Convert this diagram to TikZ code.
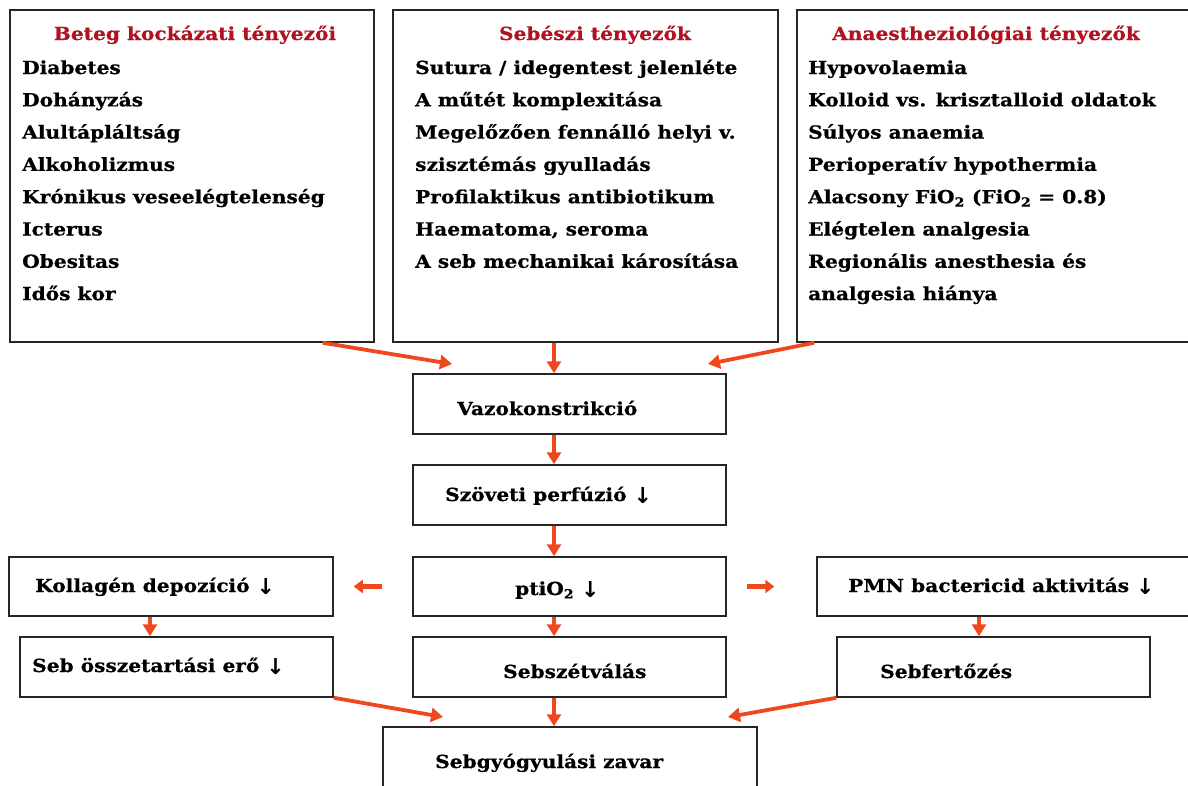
\documentclass[tikz,border=0pt]{standalone}
\usepackage{fontspec}
\setmainfont{DejaVu Serif}[FakeStretch=1.12, BoldFeatures={FakeBold=0.6}]
\newfontfamily\symfont{DejaVu Sans}
\usetikzlibrary{arrows.meta}
\definecolor{arrowred}{RGB}{240,72,30}
\definecolor{titlered}{RGB}{176,18,32}
\newcommand{\dnarrow}{\raisebox{-2.5pt}{\symfont\bfseries\fontsize{22}{22}\selectfont ↓}}
\begin{document}
\begin{tikzpicture}[x=1pt,y=-1pt,
  box/.style={draw=black!85, line width=1.5pt, rectangle, inner sep=0pt},
  txt/.style={anchor=base west, inner sep=0pt, font=\fontsize{18}{21}\selectfont\bfseries},
  ttl/.style={anchor=base, inner sep=0pt, text=titlered, font=\fontsize{18}{21}\selectfont\bfseries},
  arr/.style={draw=arrowred, line width=3.8pt, -{Triangle[length=12pt,width=14pt]}},
  sarr/.style={draw=arrowred, line width=4.5pt, -{Triangle[length=9pt,width=13pt]}},
]
\useasboundingbox (0,0) rectangle (1188,785);
\clip (0,0) rectangle (1188,785);
% top boxes
\node[box, minimum width=364pt, minimum height=332pt] (b1) at (192,176) {};
\node[box, minimum width=385pt, minimum height=332pt] (b2) at (585.5,176) {};
\node[box, minimum width=399pt, minimum height=332pt] (b3) at (996.5,176) {};
% flow boxes
\node[box, minimum width=313pt, minimum height=60pt] (vaz) at (569.5,404) {};
\node[box, minimum width=313pt, minimum height=60pt] (szo) at (569.5,495) {};
\node[box, minimum width=313pt, minimum height=59pt] (pti) at (569.5,586.5) {};
\node[box, minimum width=313pt, minimum height=60pt] (sebsz) at (569.5,667) {};
\node[box, minimum width=374pt, minimum height=73pt] (sebgy) at (570,763.5) {};
\node[box, minimum width=324pt, minimum height=59pt] (koll) at (171,586.5) {};
\node[box, minimum width=313pt, minimum height=60pt] (sebo) at (176.5,667) {};
\node[box, minimum width=379pt, minimum height=59pt] (pmn) at (1006.5,586.5) {};
\node[box, minimum width=313pt, minimum height=60pt] (sebf) at (993.5,667) {};
% titles
\node[ttl] (t1) at (195,40) {Beteg kockázati tényezői};
\node[ttl] (t2) at (595,40) {Sebészi tényezők};
\node[ttl] (t3) at (986,40) {Anaestheziológiai tényezők};
% box 1 items
\node[txt] (a1) at (22,74) {Diabetes};
\node[txt] (a2) at (22,106.3) {Dohányzás};
\node[txt] (a3) at (22,138.6) {Alultápláltság};
\node[txt] (a4) at (22,170.9) {Alkoholizmus};
\node[txt] (a5) at (22,203.2) {Krónikus veseelégtelenség};
\node[txt] (a6) at (22,235.5) {Icterus};
\node[txt] (a7) at (22,267.8) {Obesitas};
\node[txt] (a8) at (22,300.1) {Idős kor};
% box 2 items
\node[txt] (s1) at (415,74) {Sutura / idegentest jelenléte};
\node[txt] (s2) at (415,106.3) {A műtét komplexitása};
\node[txt] (s3) at (415,138.6) {Megelőzően fennálló helyi v.};
\node[txt] (s4) at (415,170.9) {szisztémás gyulladás};
\node[txt] (s5) at (415,203.2) {Profilaktikus antibiotikum};
\node[txt] (s6) at (415,235.5) {Haematoma, seroma};
\node[txt] (s7) at (415,267.8) {A seb mechanikai károsítása};
% box 3 items
\node[txt] (n1) at (808,74) {Hypovolaemia};
\node[txt] (n2) at (808,106.3) {Kolloid vs. krisztalloid oldatok};
\node[txt] (n3) at (808,138.6) {Súlyos anaemia};
\node[txt] (n4) at (808,170.9) {Perioperatív hypothermia};
\node[txt] (n5) at (808,203.2) {Alacsony FiO\textsubscript{2} (FiO\textsubscript{2} = 0.8)};
\node[txt] (n6) at (808,235.5) {Elégtelen analgesia};
\node[txt] (n7) at (808,267.8) {Regionális anesthesia és};
\node[txt] (n8) at (808,300.1) {analgesia hiánya};
% flow texts
\node[txt] (lvaz) at (457,415) {Vazokonstrikció};
\node[txt] (lszo) at (445,501) {Szöveti perfúzió \dnarrow};
\node[txt] (lpti) at (515,595) {ptiO\textsubscript{2} \dnarrow};
\node[txt] (lsebsz) at (503,678) {Sebszétválás};
\node[txt] (lsebgy) at (435,768) {Sebgyógyulási zavar};
\node[txt] (lkoll) at (35,592) {Kollagén depozíció \dnarrow};
\node[txt] (lsebo) at (32,672) {Seb összetartási erő \dnarrow};
\node[txt] (lpmn) at (848,592) {PMN bactericid aktivitás \dnarrow};
\node[txt] (lsebf) at (880,678) {Sebfertőzés};
% helper coordinates
\coordinate (cx) at (554,0);
\coordinate (cxl) at (150,0);
\coordinate (cxr) at (979,0);
\coordinate (e1) at (452,364);
\coordinate (e3) at (708,364);
\coordinate (e4) at (443,717);
\coordinate (e5) at (728,717);
% connectors
\draw[arr] ([xshift=-52pt]b1.south east) -- (e1);
\draw[arr] (b2.south -| cx) -- (vaz.north -| cx);
\draw[arr] ([xshift=18pt]b3.south west) -- (e3);
\draw[arr] (vaz.south -| cx) -- (szo.north -| cx);
\draw[arr] (szo.south -| cx) -- (pti.north -| cx);
\draw[arr] (pti.south -| cx) -- (sebsz.north -| cx);
\draw[arr] (sebsz.south -| cx) -- (sebgy.north -| cx);
\draw[sarr] ([xshift=-30pt]pti.west) -- ([xshift=20pt]koll.east);
\draw[sarr] ([xshift=20pt]pti.east) -- ([xshift=-42pt]pmn.west);
\draw[arr] (koll.south -| cxl) -- (sebo.north -| cxl);
\draw[arr] (pmn.south -| cxr) -- (sebf.north -| cxr);
\draw[arr] (sebo.south east) -- (e4);
\draw[arr] (sebf.south west) -- (e5);
\end{tikzpicture}
\end{document}
